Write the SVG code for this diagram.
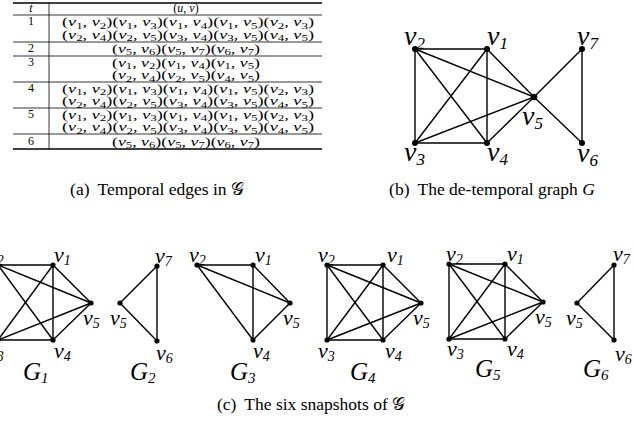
<svg xmlns="http://www.w3.org/2000/svg" width="634" height="437" viewBox="0 0 634 437">
<style>
.bg{fill:#fff}
.tl{stroke:#000;stroke-width:0.8}
.tk{stroke:#000;stroke-width:1.3}
.tt{font-family:"Liberation Serif","Times New Roman",serif;font-size:12px;fill:#000}
.i{font-style:italic}
.s{font-size:8.5px}
.e{stroke:#000;stroke-width:1.4;fill:none}
.n{fill:#000}
.lb{font-family:"Liberation Serif","Times New Roman",serif;font-style:italic;font-size:28px;fill:#000}
.lbs{font-size:17px}
.lc{font-family:"Liberation Serif","Times New Roman",serif;font-style:italic;font-size:22px;fill:#000}
.lcs{font-size:14px}
.gl{font-family:"Liberation Serif","Times New Roman",serif;font-style:italic;font-size:25px;fill:#000}
.gls{font-size:15px}
.cap{font-family:"Liberation Serif","Times New Roman",serif;font-size:17.5px;fill:#000;text-anchor:middle}
</style>
<rect class="bg" x="0" y="0" width="634" height="437"/>

<!-- (a) table -->
<g id="table">
<line class="tk" x1="13" y1="3" x2="322" y2="3"/>
<line class="tl" x1="13" y1="15" x2="322" y2="15"/>
<line class="tl" x1="13" y1="42" x2="322" y2="42"/>
<line class="tl" x1="13" y1="56" x2="322" y2="56"/>
<line class="tl" x1="13" y1="82" x2="322" y2="82"/>
<line class="tl" x1="13" y1="108" x2="322" y2="108"/>
<line class="tl" x1="13" y1="134" x2="322" y2="134"/>
<line class="tk" x1="13" y1="149" x2="322" y2="149"/>
<line class="tl" x1="49" y1="3" x2="49" y2="149"/>
<text class="tt i" x="31" y="12" text-anchor="middle">t</text>
<text class="tt" x="186" y="12" text-anchor="middle">(<tspan class="i">u</tspan>, <tspan class="i">v</tspan>)</text>
<text class="tt" x="31" y="24.5" text-anchor="middle">1</text>
<text class="tt" x="31" y="52" text-anchor="middle">2</text>
<text class="tt" x="31" y="65.5" text-anchor="middle">3</text>
<text class="tt" x="31" y="91.5" text-anchor="middle">4</text>
<text class="tt" x="31" y="117.5" text-anchor="middle">5</text>
<text class="tt" x="31" y="145" text-anchor="middle">6</text>
<text class="tt" x="62" y="26" textLength="252" lengthAdjust="spacingAndGlyphs">(<tspan class="i">v</tspan><tspan class="s" dy="2.5">1</tspan><tspan dy="-2.5">, </tspan><tspan class="i">v</tspan><tspan class="s" dy="2.5">2</tspan><tspan dy="-2.5">)(</tspan><tspan class="i">v</tspan><tspan class="s" dy="2.5">1</tspan><tspan dy="-2.5">, </tspan><tspan class="i">v</tspan><tspan class="s" dy="2.5">3</tspan><tspan dy="-2.5">)(</tspan><tspan class="i">v</tspan><tspan class="s" dy="2.5">1</tspan><tspan dy="-2.5">, </tspan><tspan class="i">v</tspan><tspan class="s" dy="2.5">4</tspan><tspan dy="-2.5">)(</tspan><tspan class="i">v</tspan><tspan class="s" dy="2.5">1</tspan><tspan dy="-2.5">, </tspan><tspan class="i">v</tspan><tspan class="s" dy="2.5">5</tspan><tspan dy="-2.5">)(</tspan><tspan class="i">v</tspan><tspan class="s" dy="2.5">2</tspan><tspan dy="-2.5">, </tspan><tspan class="i">v</tspan><tspan class="s" dy="2.5">3</tspan><tspan dy="-2.5">)</tspan></text>
<text class="tt" x="62" y="38.5" textLength="252" lengthAdjust="spacingAndGlyphs">(<tspan class="i">v</tspan><tspan class="s" dy="2.5">2</tspan><tspan dy="-2.5">, </tspan><tspan class="i">v</tspan><tspan class="s" dy="2.5">4</tspan><tspan dy="-2.5">)(</tspan><tspan class="i">v</tspan><tspan class="s" dy="2.5">2</tspan><tspan dy="-2.5">, </tspan><tspan class="i">v</tspan><tspan class="s" dy="2.5">5</tspan><tspan dy="-2.5">)(</tspan><tspan class="i">v</tspan><tspan class="s" dy="2.5">3</tspan><tspan dy="-2.5">, </tspan><tspan class="i">v</tspan><tspan class="s" dy="2.5">4</tspan><tspan dy="-2.5">)(</tspan><tspan class="i">v</tspan><tspan class="s" dy="2.5">3</tspan><tspan dy="-2.5">, </tspan><tspan class="i">v</tspan><tspan class="s" dy="2.5">5</tspan><tspan dy="-2.5">)(</tspan><tspan class="i">v</tspan><tspan class="s" dy="2.5">4</tspan><tspan dy="-2.5">, </tspan><tspan class="i">v</tspan><tspan class="s" dy="2.5">5</tspan><tspan dy="-2.5">)</tspan></text>
<text class="tt" x="112" y="52.5" textLength="148" lengthAdjust="spacingAndGlyphs">(<tspan class="i">v</tspan><tspan class="s" dy="2.5">5</tspan><tspan dy="-2.5">, </tspan><tspan class="i">v</tspan><tspan class="s" dy="2.5">6</tspan><tspan dy="-2.5">)(</tspan><tspan class="i">v</tspan><tspan class="s" dy="2.5">5</tspan><tspan dy="-2.5">, </tspan><tspan class="i">v</tspan><tspan class="s" dy="2.5">7</tspan><tspan dy="-2.5">)(</tspan><tspan class="i">v</tspan><tspan class="s" dy="2.5">6</tspan><tspan dy="-2.5">, </tspan><tspan class="i">v</tspan><tspan class="s" dy="2.5">7</tspan><tspan dy="-2.5">)</tspan></text>
<text class="tt" x="112" y="66.5" textLength="148" lengthAdjust="spacingAndGlyphs">(<tspan class="i">v</tspan><tspan class="s" dy="2.5">1</tspan><tspan dy="-2.5">, </tspan><tspan class="i">v</tspan><tspan class="s" dy="2.5">2</tspan><tspan dy="-2.5">)(</tspan><tspan class="i">v</tspan><tspan class="s" dy="2.5">1</tspan><tspan dy="-2.5">, </tspan><tspan class="i">v</tspan><tspan class="s" dy="2.5">4</tspan><tspan dy="-2.5">)(</tspan><tspan class="i">v</tspan><tspan class="s" dy="2.5">1</tspan><tspan dy="-2.5">, </tspan><tspan class="i">v</tspan><tspan class="s" dy="2.5">5</tspan><tspan dy="-2.5">)</tspan></text>
<text class="tt" x="112" y="79" textLength="148" lengthAdjust="spacingAndGlyphs">(<tspan class="i">v</tspan><tspan class="s" dy="2.5">2</tspan><tspan dy="-2.5">, </tspan><tspan class="i">v</tspan><tspan class="s" dy="2.5">4</tspan><tspan dy="-2.5">)(</tspan><tspan class="i">v</tspan><tspan class="s" dy="2.5">2</tspan><tspan dy="-2.5">, </tspan><tspan class="i">v</tspan><tspan class="s" dy="2.5">5</tspan><tspan dy="-2.5">)(</tspan><tspan class="i">v</tspan><tspan class="s" dy="2.5">4</tspan><tspan dy="-2.5">, </tspan><tspan class="i">v</tspan><tspan class="s" dy="2.5">5</tspan><tspan dy="-2.5">)</tspan></text>
<text class="tt" x="62" y="92.5" textLength="252" lengthAdjust="spacingAndGlyphs">(<tspan class="i">v</tspan><tspan class="s" dy="2.5">1</tspan><tspan dy="-2.5">, </tspan><tspan class="i">v</tspan><tspan class="s" dy="2.5">2</tspan><tspan dy="-2.5">)(</tspan><tspan class="i">v</tspan><tspan class="s" dy="2.5">1</tspan><tspan dy="-2.5">, </tspan><tspan class="i">v</tspan><tspan class="s" dy="2.5">3</tspan><tspan dy="-2.5">)(</tspan><tspan class="i">v</tspan><tspan class="s" dy="2.5">1</tspan><tspan dy="-2.5">, </tspan><tspan class="i">v</tspan><tspan class="s" dy="2.5">4</tspan><tspan dy="-2.5">)(</tspan><tspan class="i">v</tspan><tspan class="s" dy="2.5">1</tspan><tspan dy="-2.5">, </tspan><tspan class="i">v</tspan><tspan class="s" dy="2.5">5</tspan><tspan dy="-2.5">)(</tspan><tspan class="i">v</tspan><tspan class="s" dy="2.5">2</tspan><tspan dy="-2.5">, </tspan><tspan class="i">v</tspan><tspan class="s" dy="2.5">3</tspan><tspan dy="-2.5">)</tspan></text>
<text class="tt" x="62" y="105" textLength="252" lengthAdjust="spacingAndGlyphs">(<tspan class="i">v</tspan><tspan class="s" dy="2.5">2</tspan><tspan dy="-2.5">, </tspan><tspan class="i">v</tspan><tspan class="s" dy="2.5">4</tspan><tspan dy="-2.5">)(</tspan><tspan class="i">v</tspan><tspan class="s" dy="2.5">2</tspan><tspan dy="-2.5">, </tspan><tspan class="i">v</tspan><tspan class="s" dy="2.5">5</tspan><tspan dy="-2.5">)(</tspan><tspan class="i">v</tspan><tspan class="s" dy="2.5">3</tspan><tspan dy="-2.5">, </tspan><tspan class="i">v</tspan><tspan class="s" dy="2.5">4</tspan><tspan dy="-2.5">)(</tspan><tspan class="i">v</tspan><tspan class="s" dy="2.5">3</tspan><tspan dy="-2.5">, </tspan><tspan class="i">v</tspan><tspan class="s" dy="2.5">5</tspan><tspan dy="-2.5">)(</tspan><tspan class="i">v</tspan><tspan class="s" dy="2.5">4</tspan><tspan dy="-2.5">, </tspan><tspan class="i">v</tspan><tspan class="s" dy="2.5">5</tspan><tspan dy="-2.5">)</tspan></text>
<text class="tt" x="62" y="118.5" textLength="252" lengthAdjust="spacingAndGlyphs">(<tspan class="i">v</tspan><tspan class="s" dy="2.5">1</tspan><tspan dy="-2.5">, </tspan><tspan class="i">v</tspan><tspan class="s" dy="2.5">2</tspan><tspan dy="-2.5">)(</tspan><tspan class="i">v</tspan><tspan class="s" dy="2.5">1</tspan><tspan dy="-2.5">, </tspan><tspan class="i">v</tspan><tspan class="s" dy="2.5">3</tspan><tspan dy="-2.5">)(</tspan><tspan class="i">v</tspan><tspan class="s" dy="2.5">1</tspan><tspan dy="-2.5">, </tspan><tspan class="i">v</tspan><tspan class="s" dy="2.5">4</tspan><tspan dy="-2.5">)(</tspan><tspan class="i">v</tspan><tspan class="s" dy="2.5">1</tspan><tspan dy="-2.5">, </tspan><tspan class="i">v</tspan><tspan class="s" dy="2.5">5</tspan><tspan dy="-2.5">)(</tspan><tspan class="i">v</tspan><tspan class="s" dy="2.5">2</tspan><tspan dy="-2.5">, </tspan><tspan class="i">v</tspan><tspan class="s" dy="2.5">3</tspan><tspan dy="-2.5">)</tspan></text>
<text class="tt" x="62" y="131" textLength="252" lengthAdjust="spacingAndGlyphs">(<tspan class="i">v</tspan><tspan class="s" dy="2.5">2</tspan><tspan dy="-2.5">, </tspan><tspan class="i">v</tspan><tspan class="s" dy="2.5">4</tspan><tspan dy="-2.5">)(</tspan><tspan class="i">v</tspan><tspan class="s" dy="2.5">2</tspan><tspan dy="-2.5">, </tspan><tspan class="i">v</tspan><tspan class="s" dy="2.5">5</tspan><tspan dy="-2.5">)(</tspan><tspan class="i">v</tspan><tspan class="s" dy="2.5">3</tspan><tspan dy="-2.5">, </tspan><tspan class="i">v</tspan><tspan class="s" dy="2.5">4</tspan><tspan dy="-2.5">)(</tspan><tspan class="i">v</tspan><tspan class="s" dy="2.5">3</tspan><tspan dy="-2.5">, </tspan><tspan class="i">v</tspan><tspan class="s" dy="2.5">5</tspan><tspan dy="-2.5">)(</tspan><tspan class="i">v</tspan><tspan class="s" dy="2.5">4</tspan><tspan dy="-2.5">, </tspan><tspan class="i">v</tspan><tspan class="s" dy="2.5">5</tspan><tspan dy="-2.5">)</tspan></text>
<text class="tt" x="112" y="145.5" textLength="148" lengthAdjust="spacingAndGlyphs">(<tspan class="i">v</tspan><tspan class="s" dy="2.5">5</tspan><tspan dy="-2.5">, </tspan><tspan class="i">v</tspan><tspan class="s" dy="2.5">6</tspan><tspan dy="-2.5">)(</tspan><tspan class="i">v</tspan><tspan class="s" dy="2.5">5</tspan><tspan dy="-2.5">, </tspan><tspan class="i">v</tspan><tspan class="s" dy="2.5">7</tspan><tspan dy="-2.5">)(</tspan><tspan class="i">v</tspan><tspan class="s" dy="2.5">6</tspan><tspan dy="-2.5">, </tspan><tspan class="i">v</tspan><tspan class="s" dy="2.5">7</tspan><tspan dy="-2.5">)</tspan></text>
</g>

<!-- connectors -->
<g id="connectors">
<!-- (b) -->
<line class="e" x1="415" y1="49" x2="487" y2="49"/>
<line class="e" x1="415" y1="49" x2="415" y2="143"/>
<line class="e" x1="415" y1="143" x2="487" y2="143"/>
<line class="e" x1="487" y1="49" x2="487" y2="143"/>
<line class="e" x1="415" y1="49" x2="487" y2="143"/>
<line class="e" x1="487" y1="49" x2="415" y2="143"/>
<line class="e" x1="415" y1="49" x2="534" y2="97"/>
<line class="e" x1="415" y1="143" x2="534" y2="97"/>
<line class="e" x1="487" y1="49" x2="534" y2="97"/>
<line class="e" x1="487" y1="143" x2="534" y2="97"/>
<line class="e" x1="534" y1="97" x2="582" y2="49"/>
<line class="e" x1="534" y1="97" x2="582" y2="143"/>
<line class="e" x1="582" y1="49" x2="582" y2="143"/>
<!-- G1 -->
<line class="e" x1="-2" y1="265" x2="53" y2="265"/>
<line class="e" x1="-2" y1="265" x2="-2" y2="340"/>
<line class="e" x1="-2" y1="340" x2="53" y2="340"/>
<line class="e" x1="53" y1="265" x2="53" y2="340"/>
<line class="e" x1="-2" y1="265" x2="53" y2="340"/>
<line class="e" x1="53" y1="265" x2="-2" y2="340"/>
<line class="e" x1="-2" y1="265" x2="91" y2="303"/>
<line class="e" x1="-2" y1="340" x2="91" y2="303"/>
<line class="e" x1="53" y1="265" x2="91" y2="303"/>
<line class="e" x1="53" y1="340" x2="91" y2="303"/>
<!-- G2 -->
<line class="e" x1="120" y1="303" x2="157" y2="266"/>
<line class="e" x1="120" y1="303" x2="157" y2="341"/>
<line class="e" x1="157" y1="266" x2="157" y2="341"/>
<!-- G3 -->
<line class="e" x1="197" y1="265" x2="253" y2="265"/>
<line class="e" x1="197" y1="265" x2="290" y2="303"/>
<line class="e" x1="197" y1="265" x2="253" y2="340"/>
<line class="e" x1="253" y1="265" x2="253" y2="340"/>
<line class="e" x1="253" y1="265" x2="290" y2="303"/>
<line class="e" x1="253" y1="340" x2="290" y2="303"/>
<!-- G4 -->
<line class="e" x1="327" y1="265" x2="383" y2="265"/>
<line class="e" x1="327" y1="265" x2="327" y2="340"/>
<line class="e" x1="327" y1="340" x2="383" y2="340"/>
<line class="e" x1="383" y1="265" x2="383" y2="340"/>
<line class="e" x1="327" y1="265" x2="383" y2="340"/>
<line class="e" x1="383" y1="265" x2="327" y2="340"/>
<line class="e" x1="327" y1="265" x2="421" y2="303"/>
<line class="e" x1="327" y1="340" x2="421" y2="303"/>
<line class="e" x1="383" y1="265" x2="421" y2="303"/>
<line class="e" x1="383" y1="340" x2="421" y2="303"/>
<!-- G5 -->
<line class="e" x1="449" y1="264" x2="505" y2="264"/>
<line class="e" x1="449" y1="264" x2="449" y2="339"/>
<line class="e" x1="449" y1="339" x2="505" y2="339"/>
<line class="e" x1="505" y1="264" x2="505" y2="339"/>
<line class="e" x1="449" y1="264" x2="505" y2="339"/>
<line class="e" x1="505" y1="264" x2="449" y2="339"/>
<line class="e" x1="449" y1="264" x2="543" y2="302"/>
<line class="e" x1="449" y1="339" x2="543" y2="302"/>
<line class="e" x1="505" y1="264" x2="543" y2="302"/>
<line class="e" x1="505" y1="339" x2="543" y2="302"/>
<!-- G6 -->
<line class="e" x1="577" y1="303" x2="614" y2="265"/>
<line class="e" x1="577" y1="303" x2="614" y2="340"/>
<line class="e" x1="614" y1="265" x2="614" y2="340"/>
</g>

<!-- (b) nodes -->
<g id="b-v2"><circle class="n" cx="415" cy="49" r="3"/><text class="lb" x="404" y="45">v<tspan class="lbs" dy="4">2</tspan></text></g>
<g id="b-v1"><circle class="n" cx="487" cy="49" r="3"/><text class="lb" x="487" y="45">v<tspan class="lbs" dy="4">1</tspan></text></g>
<g id="b-v7"><circle class="n" cx="582" cy="49" r="3"/><text class="lb" x="577" y="45">v<tspan class="lbs" dy="4">7</tspan></text></g>
<g id="b-v5"><circle class="n" cx="534" cy="97" r="3.3"/><text class="lb" x="522" y="125">v<tspan class="lbs" dy="4">5</tspan></text></g>
<g id="b-v3"><circle class="n" cx="415" cy="143" r="3"/><text class="lb" x="404" y="161">v<tspan class="lbs" dy="4">3</tspan></text></g>
<g id="b-v4"><circle class="n" cx="487" cy="143" r="3"/><text class="lb" x="487" y="161">v<tspan class="lbs" dy="4">4</tspan></text></g>
<g id="b-v6"><circle class="n" cx="582" cy="143" r="3"/><text class="lb" x="577" y="162">v<tspan class="lbs" dy="4">6</tspan></text></g>

<!-- G1 nodes -->
<g id="g1-v2"><circle class="n" cx="-2" cy="265" r="2.6"/><text class="lc" x="-13" y="262">v<tspan class="lcs" dy="3">2</tspan></text></g>
<g id="g1-v1"><circle class="n" cx="53" cy="265" r="2.6"/><text class="lc" x="54" y="262">v<tspan class="lcs" dy="3">1</tspan></text></g>
<g id="g1-v5"><circle class="n" cx="91" cy="303" r="2.6"/><text class="lc" x="83" y="325">v<tspan class="lcs" dy="3">5</tspan></text></g>
<g id="g1-v3"><circle class="n" cx="-2" cy="340" r="2.6"/><text class="lc" x="-13" y="358">v<tspan class="lcs" dy="3">3</tspan></text></g>
<g id="g1-v4"><circle class="n" cx="53" cy="340" r="2.6"/><text class="lc" x="54" y="358">v<tspan class="lcs" dy="3">4</tspan></text></g>
<g id="g1-label"><text class="gl" x="23" y="380">G<tspan class="gls" dy="3">1</tspan></text></g>
<!-- G2 nodes -->
<g id="g2-v7"><circle class="n" cx="157" cy="266" r="2.6"/><text class="lc" x="155" y="263">v<tspan class="lcs" dy="3">7</tspan></text></g>
<g id="g2-v5"><circle class="n" cx="120" cy="303" r="2.6"/><text class="lc" x="110" y="325">v<tspan class="lcs" dy="3">5</tspan></text></g>
<g id="g2-v6"><circle class="n" cx="157" cy="341" r="2.6"/><text class="lc" x="156" y="360">v<tspan class="lcs" dy="3">6</tspan></text></g>
<g id="g2-label"><text class="gl" x="130" y="380">G<tspan class="gls" dy="3">2</tspan></text></g>
<!-- G3 nodes -->
<g id="g3-v2"><circle class="n" cx="197" cy="265" r="2.6"/><text class="lc" x="189" y="262">v<tspan class="lcs" dy="3">2</tspan></text></g>
<g id="g3-v1"><circle class="n" cx="253" cy="265" r="2.6"/><text class="lc" x="255" y="262">v<tspan class="lcs" dy="3">1</tspan></text></g>
<g id="g3-v5"><circle class="n" cx="290" cy="303" r="2.6"/><text class="lc" x="283" y="325">v<tspan class="lcs" dy="3">5</tspan></text></g>
<g id="g3-v4"><circle class="n" cx="253" cy="340" r="2.6"/><text class="lc" x="253" y="358">v<tspan class="lcs" dy="3">4</tspan></text></g>
<g id="g3-label"><text class="gl" x="230" y="380">G<tspan class="gls" dy="3">3</tspan></text></g>
<!-- G4 nodes -->
<g id="g4-v2"><circle class="n" cx="327" cy="265" r="2.6"/><text class="lc" x="318" y="262">v<tspan class="lcs" dy="3">2</tspan></text></g>
<g id="g4-v1"><circle class="n" cx="383" cy="265" r="2.6"/><text class="lc" x="387" y="262">v<tspan class="lcs" dy="3">1</tspan></text></g>
<g id="g4-v5"><circle class="n" cx="421" cy="303" r="2.6"/><text class="lc" x="413" y="325">v<tspan class="lcs" dy="3">5</tspan></text></g>
<g id="g4-v3"><circle class="n" cx="327" cy="340" r="2.6"/><text class="lc" x="318" y="358">v<tspan class="lcs" dy="3">3</tspan></text></g>
<g id="g4-v4"><circle class="n" cx="383" cy="340" r="2.6"/><text class="lc" x="385" y="358">v<tspan class="lcs" dy="3">4</tspan></text></g>
<g id="g4-label"><text class="gl" x="350" y="380">G<tspan class="gls" dy="3">4</tspan></text></g>
<!-- G5 nodes -->
<g id="g5-v2"><circle class="n" cx="449" cy="264" r="2.6"/><text class="lc" x="446" y="261">v<tspan class="lcs" dy="3">2</tspan></text></g>
<g id="g5-v1"><circle class="n" cx="505" cy="264" r="2.6"/><text class="lc" x="507" y="261">v<tspan class="lcs" dy="3">1</tspan></text></g>
<g id="g5-v5"><circle class="n" cx="543" cy="302" r="2.6"/><text class="lc" x="535" y="324">v<tspan class="lcs" dy="3">5</tspan></text></g>
<g id="g5-v3"><circle class="n" cx="449" cy="339" r="2.6"/><text class="lc" x="447" y="356">v<tspan class="lcs" dy="3">3</tspan></text></g>
<g id="g5-v4"><circle class="n" cx="505" cy="339" r="2.6"/><text class="lc" x="507" y="356">v<tspan class="lcs" dy="3">4</tspan></text></g>
<g id="g5-label"><text class="gl" x="475" y="377">G<tspan class="gls" dy="3">5</tspan></text></g>
<!-- G6 nodes -->
<g id="g6-v7"><circle class="n" cx="614" cy="265" r="2.6"/><text class="lc" x="613" y="261">v<tspan class="lcs" dy="3">7</tspan></text></g>
<g id="g6-v5"><circle class="n" cx="577" cy="303" r="2.6"/><text class="lc" x="566" y="325">v<tspan class="lcs" dy="3">5</tspan></text></g>
<g id="g6-v6"><circle class="n" cx="614" cy="340" r="2.6"/><text class="lc" x="615" y="361">v<tspan class="lcs" dy="3">6</tspan></text></g>
<g id="g6-label"><text class="gl" x="583" y="377">G<tspan class="gls" dy="3">6</tspan></text></g>

<!-- captions -->
<text class="cap" x="157" y="195">(a)<tspan dx="8">Temporal edges in 𝒢</tspan></text>
<text class="cap" x="492" y="195">(b)<tspan dx="8">The de-temporal graph </tspan><tspan font-style="italic">G</tspan></text>
<text class="cap" x="311" y="410">(c)<tspan dx="8">The six snapshots of 𝒢</tspan></text>
</svg>
